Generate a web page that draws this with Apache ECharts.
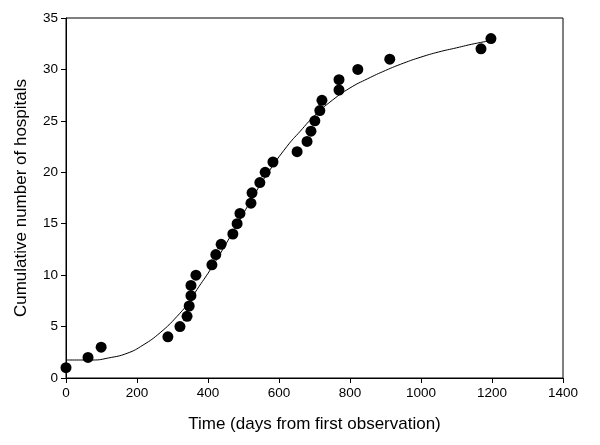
<!DOCTYPE html>
<html>
<head>
<meta charset="utf-8">
<script src="https://cdn.jsdelivr.net/npm/echarts@6/dist/echarts.min.js"></script>
<style>
  html, body { margin: 0; padding: 0; background: #fff; }
  #chart { width: 600px; height: 445px; }
</style>
</head>
<body>
<div id="chart"></div>
<script>
// observed hospitals: day of first observation, cumulative count
var obsDays = [0, 62, 99, 287, 321, 341, 347, 352, 352, 366, 411, 422, 437, 470, 482, 490,
  521, 524, 546, 561, 583, 651, 679, 690, 701, 715, 721, 769, 769, 822, 912, 1169, 1197];
var obsCount = [1, 2, 3, 4, 5, 6, 7, 8, 9, 10, 11, 12, 13, 14, 15, 16,
  17, 18, 19, 20, 21, 22, 23, 24, 25, 26, 27, 28, 29, 30, 31, 32, 33];

// fitted curve
var fitDays = [0, 76, 120, 172, 217, 265, 313, 349, 369, 406, 450, 490, 530, 570, 622,
  660, 700, 750, 800, 850, 900, 950, 1000, 1050, 1100, 1150, 1197];
var fitCount = [1.75, 1.75, 1.95, 2.4, 3.2, 4.4, 6.0, 7.5, 8.6, 10.5, 13.0, 15.4, 17.8, 20.0, 22.5,
  24.0, 25.5, 27.0, 28.2, 29.1, 29.9, 30.6, 31.2, 31.7, 32.1, 32.5, 32.8];

function pairs(xs, ys) {
  return xs.map(function (x, i) { return [x, ys[i]]; });
}

var font = 'Liberation Sans, Arial, sans-serif';
var chart = echarts.init(document.getElementById('chart'));
chart.setOption({
  animation: false,
  grid: {
    left: 66, right: 37, top: 18, bottom: 67,
    show: true, borderColor: '#000', borderWidth: 1, backgroundColor: 'transparent'
  },
  xAxis: {
    type: 'value', min: 0, max: 1400, interval: 200,
    name: 'Time (days from first observation)',
    nameLocation: 'middle', nameGap: 38,
    nameTextStyle: {fontFamily: font, fontSize: 17, color: '#000'},
    axisLine: {show: true, lineStyle: {color: '#000', width: 1}},
    axisTick: {show: true, inside: false, length: 5, lineStyle: {color: '#000'}},
    axisLabel: {fontFamily: font, fontSize: 13.5, color: '#000', margin: 8,
      formatter: function (v) { return String(v); }},
    splitLine: {show: false}
  },
  yAxis: {
    type: 'value', min: 0, max: 35, interval: 5,
    name: 'Cumulative number of hospitals',
    nameLocation: 'middle', nameGap: 36,
    nameTextStyle: {fontFamily: font, fontSize: 17, color: '#000'},
    axisLine: {show: true, lineStyle: {color: '#000', width: 1}},
    axisTick: {show: true, inside: false, length: 5, lineStyle: {color: '#000'}},
    axisLabel: {fontFamily: font, fontSize: 13.5, color: '#000', margin: 8},
    splitLine: {show: false}
  },
  series: [
    {
      name: 'fit',
      type: 'line',
      data: pairs(fitDays, fitCount),
      smooth: 0.5,
      showSymbol: false,
      lineStyle: {color: '#000', width: 1}
    },
    {
      name: 'observed',
      type: 'scatter',
      data: pairs(obsDays, obsCount),
      symbol: 'circle',
      symbolSize: 11,
      itemStyle: {color: '#000', opacity: 1}
    }
  ]
});
</script>
</body>
</html>
